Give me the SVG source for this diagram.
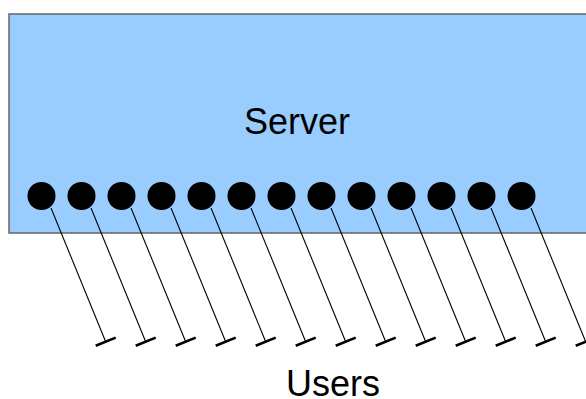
<svg xmlns="http://www.w3.org/2000/svg" width="586" height="399" viewBox="0 0 586 399">
  <style>
    .label { font-family: "Liberation Sans", Arial, sans-serif; font-size: 36px; fill: #000; text-anchor: middle; }
    .port { fill: #000; }
    .wire { stroke: #000; stroke-width: 1.1; fill: none; }
    .term { stroke: #000; stroke-width: 2.6; fill: none; }
  </style>
  <defs>
    <!-- one connector: a slanted wire ending in a short cross-bar -->
    <g id="link">
      <line class="wire" x1="9.5" y1="12" x2="64.2" y2="145.7"/>
      <line class="term" x1="54.2" y1="149.8" x2="74.2" y2="141.6"/>
    </g>
  </defs>

  <g id="server">
    <rect x="9" y="14" width="590" height="219" fill="#99ccff" stroke="#666666" stroke-width="1.5"/>
    <text class="label" x="297" y="134">Server</text>
  </g>

  <g id="connectors">
    <use href="#link" x="41.5" y="196"/>
    <use href="#link" x="81.5" y="196"/>
    <use href="#link" x="121.5" y="196"/>
    <use href="#link" x="161.5" y="196"/>
    <use href="#link" x="201.5" y="196"/>
    <use href="#link" x="241.5" y="196"/>
    <use href="#link" x="281.5" y="196"/>
    <use href="#link" x="321.5" y="196"/>
    <use href="#link" x="361.5" y="196"/>
    <use href="#link" x="401.5" y="196"/>
    <use href="#link" x="441.5" y="196"/>
    <use href="#link" x="481.5" y="196"/>
    <use href="#link" x="521.5" y="196"/>
  </g>

  <g id="ports">
    <circle class="port" cx="41.5" cy="196" r="14"/>
    <circle class="port" cx="81.5" cy="196" r="14"/>
    <circle class="port" cx="121.5" cy="196" r="14"/>
    <circle class="port" cx="161.5" cy="196" r="14"/>
    <circle class="port" cx="201.5" cy="196" r="14"/>
    <circle class="port" cx="241.5" cy="196" r="14"/>
    <circle class="port" cx="281.5" cy="196" r="14"/>
    <circle class="port" cx="321.5" cy="196" r="14"/>
    <circle class="port" cx="361.5" cy="196" r="14"/>
    <circle class="port" cx="401.5" cy="196" r="14"/>
    <circle class="port" cx="441.5" cy="196" r="14"/>
    <circle class="port" cx="481.5" cy="196" r="14"/>
    <circle class="port" cx="521.5" cy="196" r="14"/>
  </g>

  <g id="users">
    <text class="label" x="333" y="396">Users</text>
  </g>
</svg>
